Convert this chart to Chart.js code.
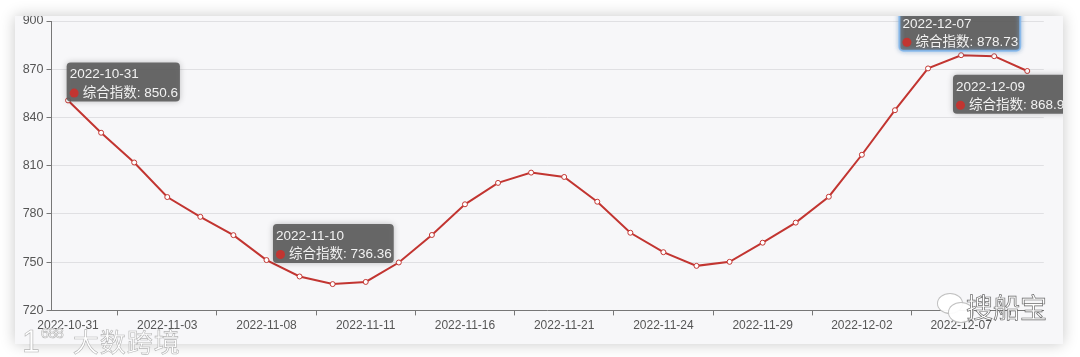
<!DOCTYPE html>
<html>
<head>
<meta charset="utf-8">
<script src="https://cdn.jsdelivr.net/npm/chart.js@4.4.0/dist/chart.umd.min.js"></script>
<style>
  html, body { margin: 0; padding: 0; background: #ffffff; width: 1080px; height: 357px; overflow: hidden; }
  #card { position: absolute; left: 15px; top: 16px; width: 1048px; height: 328px; background: #f7f7f9;
          box-shadow: 0 0 14px rgba(0,0,0,0.22); overflow: hidden; }
  #c { position: absolute; left: 0; top: 0; }
  .wm1 { position: absolute; left: 22px; top: 318px; font-family: "Noto Sans CJK SC", sans-serif; font-size: 26px; line-height: 30px;
         color: rgba(255,255,255,0.95); -webkit-text-stroke: 0.6px rgba(130,130,130,0.6); letter-spacing: 1px; white-space: nowrap; }
  .wm1 .logo { font-family: "Liberation Sans", sans-serif; font-size: 32px; margin-right: 10px; }
  .wm1 .logo sup { font-size: 15px; vertical-align: 14px; letter-spacing: -1px; }
  .wm2 { position: absolute; left: 966px; top: 287px; font-family: "Noto Sans CJK SC", sans-serif; font-size: 27px;
         color: rgba(255,255,255,0.95); -webkit-text-stroke: 0.7px rgba(70,70,70,0.8); white-space: nowrap; }
  .bub { position: absolute; background: rgba(255,255,255,0.95); border: 1px solid rgba(150,150,150,0.6); border-radius: 50%; }
</style>
</head>
<body>
<div id="card"><canvas id="c" width="1048" height="328"></canvas></div>
<div class="bub" style="left:937px;top:293px;width:24px;height:19px;"></div>
<div class="bub" style="left:948px;top:302px;width:24px;height:19px;"></div>
<div class="wm2">搜船宝</div>
<div class="wm1"><span class="logo">1<sup>688</sup></span>大数跨境</div>
<script>
// ---- data ----
const dates = ["2022-10-31","2022-11-01","2022-11-02","2022-11-03","2022-11-04","2022-11-07","2022-11-08","2022-11-09",
  "2022-11-10","2022-11-11","2022-11-14","2022-11-15","2022-11-16","2022-11-17","2022-11-18","2022-11-21","2022-11-22",
  "2022-11-23","2022-11-24","2022-11-25","2022-11-28","2022-11-29","2022-11-30","2022-12-01","2022-12-02","2022-12-05",
  "2022-12-06","2022-12-07","2022-12-08","2022-12-09"];
const seriesName = "综合指数";
const values = [850.6, 830.5, 812.0, 790.5, 778.2, 766.8, 751.3, 741.1, 736.36, 737.7, 749.8, 766.9, 786.0, 799.3,
  805.7, 803.0, 787.6, 768.3, 756.2, 747.7, 750.2, 762.1, 774.6, 790.7, 816.8, 844.5, 870.5, 878.73, 878.1, 868.9];
const yTicks = [720, 750, 780, 810, 840, 870, 900];
const tooltipIndices = [0, 8, 27, 29];

// ---- tooltip placement (layout only) ----
const tipPlacement = {
  0:  { dx: -1.4,  dy: -37.8, glow: false },
  8:  { dx: -59.7, dy: -60.1, glow: false },
  27: { dx: -61.7, dy: -43.4, glow: true },
  29: { dx: -74.3, dy: 3.8,   glow: false }
};

const red = '#c23531';
const FONT = '"Liberation Sans", "Noto Sans CJK SC", sans-serif';

const staticTips = {
  id: 'staticTips',
  afterDraw(chart) {
    const ctx = chart.ctx;
    const meta = chart.getDatasetMeta(0);
    tooltipIndices.forEach(i => {
      const el = meta.data[i];
      const p = tipPlacement[i];
      const title = dates[i];
      const label = seriesName + ': ' + values[i];
      ctx.save();
      ctx.font = '13.5px ' + FONT;
      const tw = Math.max(ctx.measureText(title).width + 4, ctx.measureText(label).width + 16);
      const w = tw + 2, h = 39;
      const x = el.x + p.dx, y = el.y + p.dy;
      ctx.shadowColor = 'rgba(0,0,0,0.25)';
      ctx.shadowBlur = 6;
      ctx.fillStyle = 'rgba(95,95,95,0.93)';
      ctx.beginPath();
      ctx.roundRect(x, y, w, h, 4);
      ctx.fill();
      ctx.shadowBlur = 0; ctx.shadowColor = 'transparent';
      if (p.glow) {
        ctx.strokeStyle = 'rgba(130,185,240,0.85)';
        ctx.lineWidth = 2;
        ctx.shadowColor = 'rgba(120,180,240,0.8)';
        ctx.shadowBlur = 4;
        ctx.stroke();
        ctx.shadowBlur = 0; ctx.shadowColor = 'transparent';
      }
      ctx.fillStyle = '#f2f2f2';
      ctx.textBaseline = 'middle';
      ctx.textAlign = 'left';
      ctx.fillText(title, x + 3, y + 12);
      ctx.beginPath();
      ctx.arc(x + 7.5, y + 30.5, 4.5, 0, Math.PI * 2);
      ctx.fillStyle = red;
      ctx.fill();
      ctx.fillStyle = '#f2f2f2';
      ctx.fillText(label, x + 16, y + 30.5);
      ctx.restore();
    });
  }
};

new Chart(document.getElementById('c'), {
  type: 'line',
  data: {
    labels: dates,
    datasets: [{
      label: seriesName,
      data: values,
      borderColor: red,
      borderWidth: 2,
      backgroundColor: '#ffffff',
      pointBackgroundColor: '#ffffff',
      pointBorderColor: red,
      pointBorderWidth: 1,
      pointRadius: 2.5,
      tension: 0,
      fill: false
    }]
  },
  options: {
    responsive: false,
    animation: false,
    events: [],
    layout: { padding: { left: 0, top: 2.3, right: 19.2, bottom: 3.6 } },
    plugins: { legend: { display: false }, tooltip: { enabled: false } },
    scales: {
      x: {
        type: 'category',
        offset: true,
        border: { display: true, color: '#777', width: 1 },
        grid: {
          offset: true,
          drawOnChartArea: false,
          drawTicks: true,
          tickLength: 5,
          tickColor: (c) => (c.index % 3 === 2 ? '#777' : 'rgba(0,0,0,0)'),
          color: 'rgba(0,0,0,0)'
        },
        ticks: {
          autoSkip: false,
          maxRotation: 0,
          minRotation: 0,
          padding: 3,
          color: '#555',
          font: { family: FONT, size: 12 },
          callback: (v, i) => (i % 3 === 0 ? dates[i] : '')
        },
        afterFit: (s) => { s.height = 30; s.paddingLeft = 0; s.paddingRight = 0; }
      },
      y: {
        min: yTicks[0],
        max: yTicks[yTicks.length - 1],
        afterBuildTicks: (s) => { s.ticks = yTicks.map(v => ({ value: v })); },
        border: { display: true, color: '#777', width: 1 },
        grid: { color: '#e0e0e3', lineWidth: 1, tickLength: 5, tickColor: '#777' },
        ticks: { padding: 3, color: '#555', font: { family: FONT, size: 12.5 } },
        afterFit: (s) => { s.width = 36.5; s.paddingTop = 0; s.paddingBottom = 0; }
      }
    }
  },
  plugins: [staticTips]
});
</script>
</body>
</html>
